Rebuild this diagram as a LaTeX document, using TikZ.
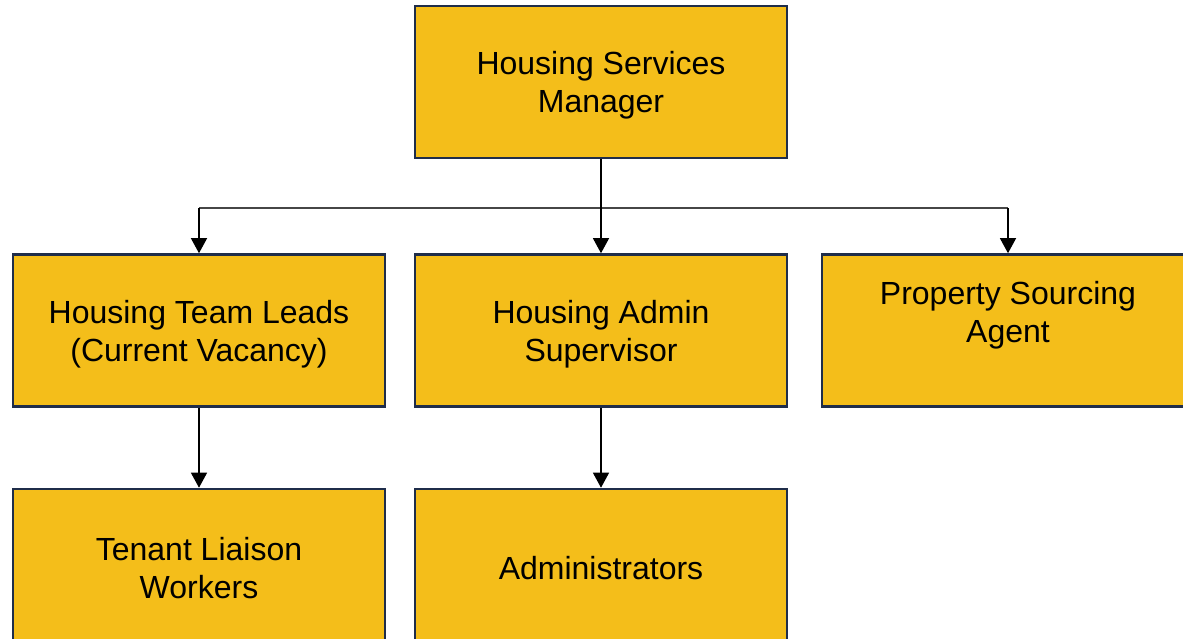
\documentclass[tikz,border=0pt]{standalone}
\usepackage{fontspec}
\setmainfont{Liberation Sans}
\usetikzlibrary{arrows.meta,positioning}
\definecolor{boxgold}{RGB}{244,190,26}
\definecolor{boxnavy}{RGB}{31,45,74}
\definecolor{busgrey}{RGB}{70,70,70}

\tikzset{
  orgbox/.style={draw=boxnavy,fill=boxgold,line width=2.6pt,minimum width=372pt,minimum height=152pt,inner sep=0pt,align=center,font=\fontsize{32}{38}\selectfont},
  orgtext/.style={align=center,inner sep=0pt,font=\fontsize{32}{38}\selectfont},
  link/.style={line width=1.3pt,-{Triangle[width=16pt,length=15pt]}}
}

\begin{document}
\begin{tikzpicture}[x=1pt,y=-1pt]
  \useasboundingbox (0,0) rectangle (1183,638);
  % top level
  \node[orgbox] (mgr) at (601,82) {};
  \node[orgtext] (mgrlbl) at (601,85) {Housing Services\\Manager};
  % second row
  \node[orgbox] (leads) at (199,330.5) {};
  \node[orgtext] (leadslbl) at (199,334) {Housing Team Leads\\(Current Vacancy)};
  \node[orgbox] (super) at (601,330.5) {};
  \node[orgtext] (superlbl) at (601,334) {Housing Admin\\Supervisor};
  \node[orgbox] (agent) at (1008,330.5) {};
  \node[orgtext] (agentlbl) at (1008,315) {Property Sourcing\\Agent};
  % third row
  \node[orgbox] (tenant) at (199,565) {};
  \node[orgtext] (tenantlbl) at (199,568) {Tenant Liaison\\Workers};
  \node[orgbox] (admins) at (601,565) {};
  \node[orgtext] (adminslbl) at (601,568) {Administrators};
  % connectors
  \coordinate (bus) at (601,208);
  \draw[busgrey,line width=1.3pt] (leads.north |- bus)--(agent.north |- bus);
  \draw[line width=1.3pt] (mgr.south)--(bus);
  \draw[link] (bus)--(super.north);
  \draw[link] (leads.north |- bus)--(leads.north);
  \draw[link] (agent.north |- bus)--(agent.north);
  \draw[link] (leads.south)--(tenant.north);
  \draw[link] (super.south)--(admins.north);
\end{tikzpicture}
\end{document}
